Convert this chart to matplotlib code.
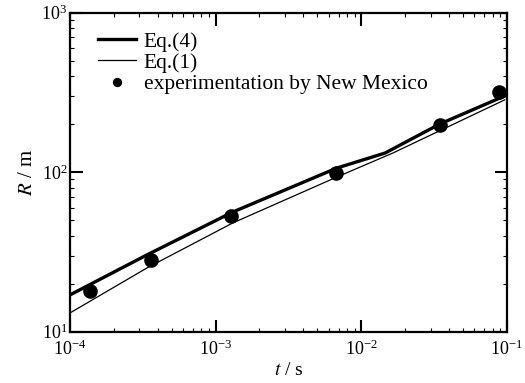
import matplotlib
matplotlib.use('Agg')
import matplotlib.pyplot as plt
import numpy as np

plt.rcParams['font.family'] = ['Liberation Serif', 'DejaVu Serif']
plt.rcParams['mathtext.fontset'] = 'stix'

# Eq.(4) curve
t_eq4 = [1.0e-4, 3.38e-4, 1.31e-3, 6.82e-3, 1.46e-2, 3.47e-2, 9.68e-2]
R_eq4 = [17.0, 30.3, 56.2, 106.2, 131.8, 200.5, 300.6]

# Eq.(1) curve
t_eq1 = [1.0e-4, 3.38e-4, 1.31e-3, 6.82e-3, 1.65e-2, 9.68e-2]
R_eq1 = [13.1, 25.1, 48.0, 93.3, 131.8, 284.0]

# experimentation by New Mexico
t_exp = [1.37e-4, 3.6e-4, 1.27e-3, 6.7e-3, 3.5e-2, 8.9e-2]
R_exp = [18.1, 28.3, 53.4, 99.3, 198.5, 320.0]

fig = plt.figure(figsize=(5.25, 3.83), dpi=100)
ax = fig.add_axes([0.1333, 0.134, 0.832, 0.833])

ax.plot(t_eq4, R_eq4, color='black', lw=2.4, label='Eq.(4)')
ax.plot(t_eq1, R_eq1, color='black', lw=0.9, label='Eq.(1)')
ax.plot(t_exp, R_exp, 'o', color='black', ms=9.5, label='experimentation by New Mexico')

ax.set_xscale('log')
ax.set_yscale('log')
ax.set_xlim(1e-4, 1e-1)
ax.set_ylim(10, 1000)

ax.tick_params(which='major', direction='in', length=9, width=1.5, labelsize=13,
               top=True, right=True)
ax.tick_params(which='minor', direction='in', length=3, width=0.8, top=True, right=True)
ax.tick_params(axis='x', pad=6)
ax.tick_params(axis='y', pad=2)
for s in ax.spines.values():
    s.set_linewidth(1.6)

ax.set_xlabel('$t$ / s', fontsize=14, labelpad=2)
ax.set_ylabel('$R$ / m', fontsize=15, labelpad=3)

ax.legend(loc='upper left', bbox_to_anchor=(0.065, 0.94), frameon=False, fontsize=15.5,
          handlelength=1.75, handletextpad=0.35, labelspacing=0.05, markerscale=0.6,
          borderaxespad=0, borderpad=0)

fig.savefig('out.png', dpi=100)
